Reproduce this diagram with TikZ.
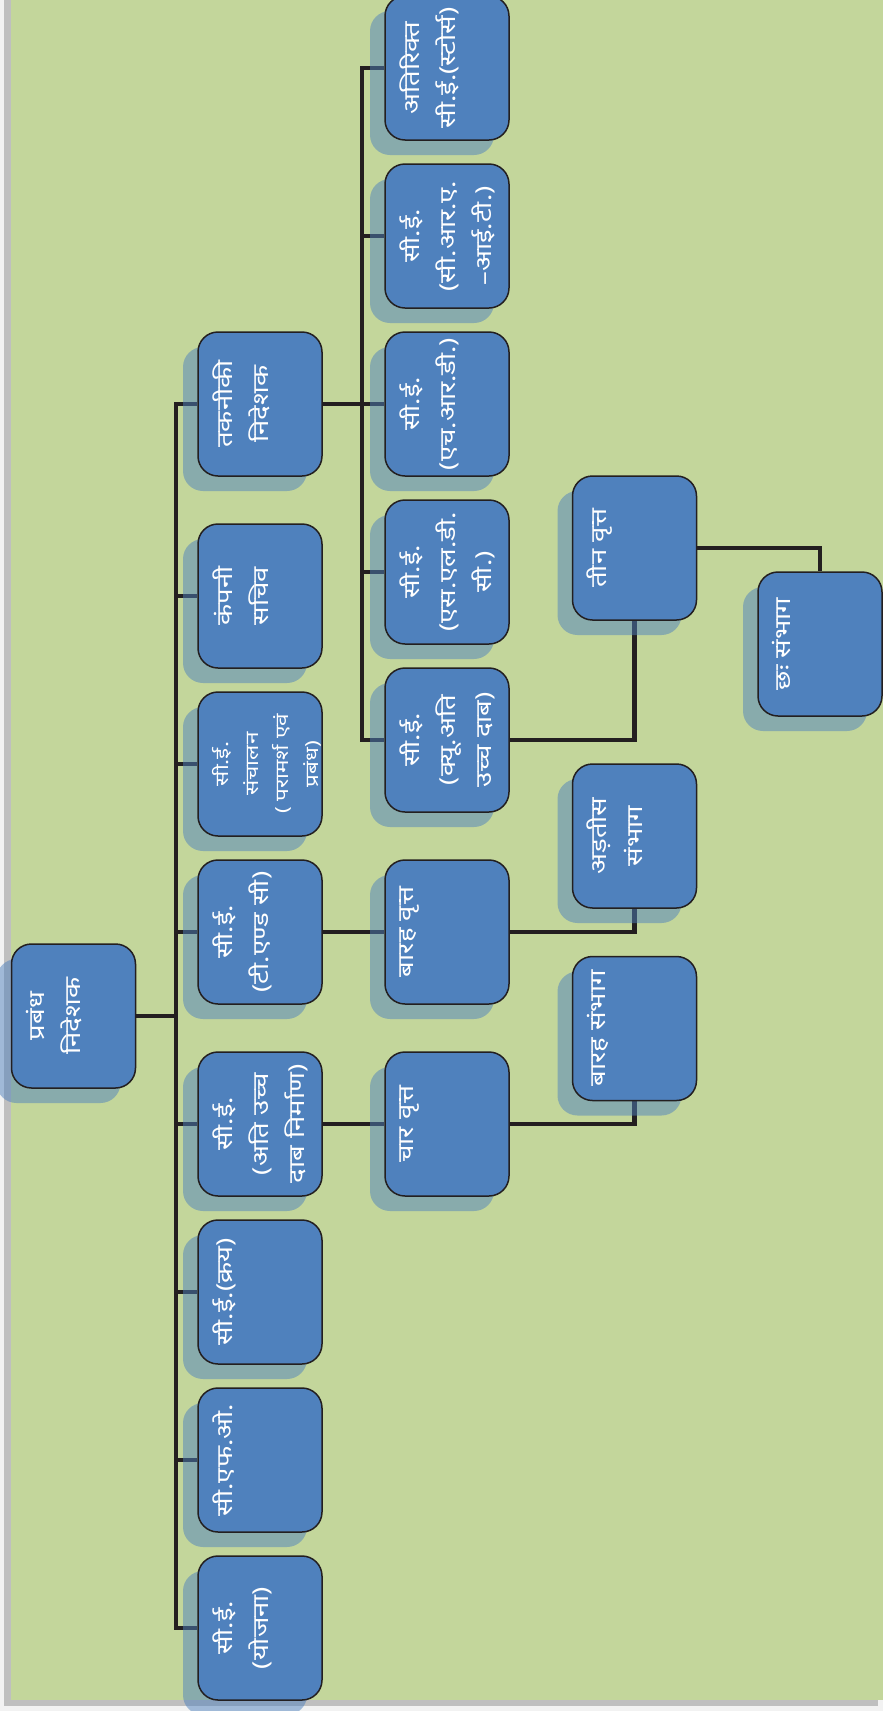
\documentclass[tikz,border=0pt]{standalone}
\usepackage{fontspec}
\setmainfont{Noto Sans}[Script=Devanagari,FakeStretch=1.25]
\usetikzlibrary{shadows}
\definecolor{bggreen}{HTML}{C3D69B}
\definecolor{boxblue}{HTML}{4F81BD}
\definecolor{lineblk}{HTML}{231F20}
\definecolor{framegray}{HTML}{BFBFBF}
\definecolor{pagewhite}{HTML}{F2F2F2}
\pgfdeclarelayer{back}
\pgfdeclarelayer{bg}
\pgfsetlayers{back,bg,main}
\newcommand{\orgbox}[5][]{%
  \node[box] (#2) at (#3,#4) {};
  \node[txt,#1] (#2t) at ([xshift=15pt]#2.west) {#5};}
\begin{document}
\begin{tikzpicture}[x=1pt,y=-1pt,
  box/.style={draw=lineblk, line width=1.5pt, fill=boxblue, rounded corners=20pt,
    minimum width=124pt, minimum height=144pt, inner sep=0pt,
    drop shadow={shadow xshift=-15pt, shadow yshift=-15pt, fill=boxblue, opacity=0.5, draw=none}},
  txt/.style={text=white, align=center, rotate=90, anchor=north, inner sep=0pt,
    font=\fontsize{22}{36}\selectfont},
  smalltxt/.style={font=\fontsize{18}{30}\selectfont},
  conn/.style={draw=lineblk, line width=4.5pt, line join=miter}]
\useasboundingbox (0,0) rectangle (883,1711);
\begin{pgfonlayer}{back}
  \fill[pagewhite] (0,0) rectangle (883,1711);
  \fill[framegray] (4,0) rectangle (878,1706);
  \fill[bggreen] (11,0) rectangle (883,1700);
\end{pgfonlayer}
% column 1
\orgbox{md}{73.5}{1016}{प्रबंध\\निदेशक}
% column 2
\orgbox{td}{260}{404}{तकनीकी\\निदेशक}
\orgbox{cs}{260}{596}{कंपनी\\सचिव}
\orgbox[smalltxt]{op}{260}{764}{सी.ई.\\संचालन\\( परामर्श एवं\\प्रबंध)}
\orgbox{tc}{260}{932}{सी.ई.\\(टी.एण्ड सी)}
\orgbox{eh}{260}{1124}{सी.ई.\\(अति उच्च\\दाब निर्माण)}
\orgbox{pur}{260}{1292}{सी.ई.(क्रय)}
\orgbox{cfo}{260}{1460}{सी.एफ.ओ.}
\orgbox{plan}{260}{1628}{सी.ई.\\(योजना)}
% column 3
\orgbox{stores}{447}{68}{अतिरिक्त\\सी.ई.(स्टोर्स)}
\orgbox{cra}{447}{236}{सी.ई.\\(सी.आर.ए.\\–आई.टी.)}
\orgbox{hrd}{447}{404}{सी.ई.\\(एच.आर.डी.)}
\orgbox{sldc}{447}{572}{सी.ई.\\(एस.एल.डी.\\सी.)}
\orgbox{qa}{447}{740}{सी.ई.\\(क्यू.अति\\उच्च दाब)}
\orgbox{btc}{447}{932}{बारह वृत्त}
\orgbox{ctc}{447}{1124}{चार वृत्त}
% column 4
\orgbox{ttc}{634.5}{548}{तीन वृत्त}
\orgbox{ads}{634.5}{836}{अड़तीस\\संभाग}
\orgbox{bds}{634.5}{1028.5}{बारह संभाग}
% column 5
\orgbox{cds}{820}{644}{छः संभाग}
\coordinate (trunk) at (176,0);
\coordinate (trunkb) at (362,0);
\begin{pgfonlayer}{bg}
  \draw[conn] (md.east) -- (md.east -| trunk);
  \draw[conn] (td.west) -- (td.west -| trunk) -- (plan.west -| trunk) -- (plan.west);
  \foreach \n in {cs,op,tc,eh,pur,cfo}{\draw[conn] (\n.west) -- (\n.west -| trunk);}
  \draw[conn] (td.east) -- (td.east -| trunkb);
  \draw[conn] (stores.west) -- (stores.west -| trunkb) -- (qa.west -| trunkb) -- (qa.west);
  \foreach \n in {cra,hrd,sldc}{\draw[conn] (\n.west) -- (\n.west -| trunkb);}
  \draw[conn] (tc.east) -- (btc.west);
  \draw[conn] (eh.east) -- (ctc.west);
  \draw[conn] (qa.east) -| (ttc.south);
  \draw[conn] (btc.east) -| (ads.south);
  \draw[conn] (ctc.east) -| (bds.south);
  \draw[conn] (ttc.east) -| (cds.north);
\end{pgfonlayer}
\end{tikzpicture}
\end{document}
